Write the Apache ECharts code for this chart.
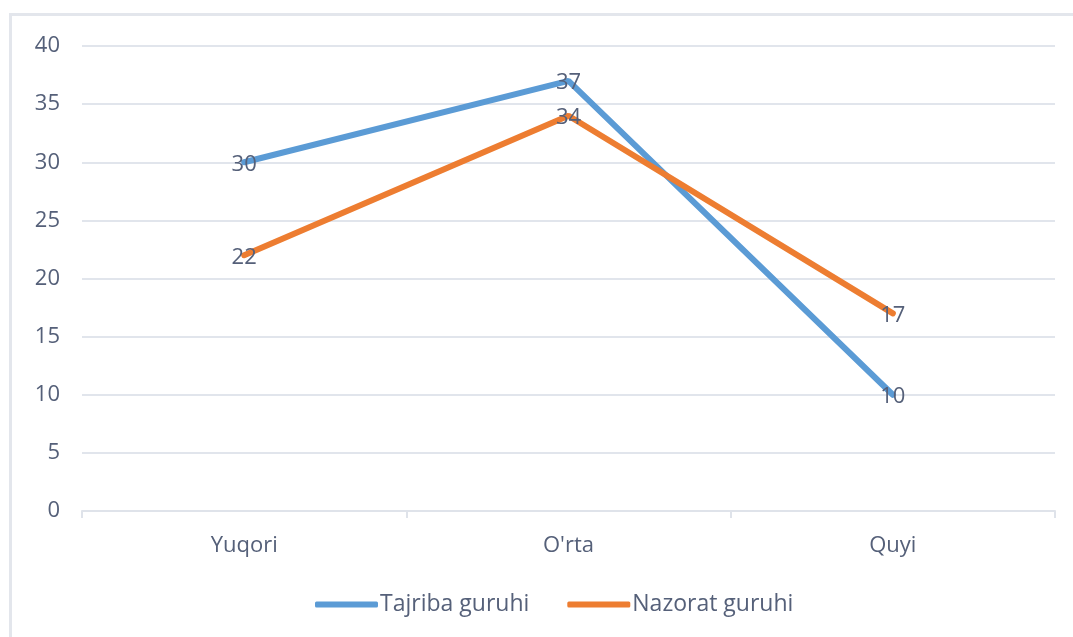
<!DOCTYPE html>
<html><head><meta charset="utf-8">
<script src="https://cdn.jsdelivr.net/npm/echarts@6/dist/echarts.min.js"></script>
<style>
html,body{margin:0;padding:0;background:#fff;overflow:hidden;}
#frame{position:absolute;left:9px;top:13px;width:1080px;height:640px;border:3px solid #e3e6ec;box-sizing:border-box;}
#chart{position:absolute;left:0;top:0;width:1073px;height:637px;}
</style></head>
<body>
<div id="frame"></div>
<div id="chart"></div>
<script>
const categories = ["Yuqori", "O'rta", "Quyi"];
const tajriba = [30, 37, 10];
const nazorat = [22, 34, 17];
const seriesNames = ["Tajriba guruhi", "Nazorat guruhi"];
const yTicks = {min: 0, max: 40, interval: 5};

const textColor = '#556079';
const font = 'Open Sans';
const fs = 22;
const chart = echarts.init(document.getElementById('chart'), null, {renderer: 'canvas'});
const label = {show: true, position: 'inside', offset: [0, 2], color: textColor, fontSize: fs, fontFamily: font};
chart.setOption({
  animation: false,
  grid: {left: 82, right: 18, top: 46, bottom: 126},
  legend: {
    bottom: 16, left: 310,
    itemWidth: 63, itemHeight: 6, itemGap: 38,
    icon: 'roundRect',
    textStyle: {color: textColor, fontSize: 23, fontFamily: font, padding: [0,0,0,-3]},
    data: seriesNames
  },
  xAxis: {
    type: 'category', data: categories, boundaryGap: true,
    axisLine: {lineStyle: {color: '#dfe3ea', width: 2}},
    axisTick: {show: true, length: 7, lineStyle: {color: '#dfe3ea', width: 2}},
    axisLabel: {color: textColor, fontSize: fs, fontFamily: font, margin: 24}
  },
  yAxis: {
    type: 'value', min: yTicks.min, max: yTicks.max, interval: yTicks.interval,
    axisLine: {show: false}, axisTick: {show: false},
    axisLabel: {color: textColor, fontSize: fs, fontFamily: font, margin: 22},
    splitLine: {lineStyle: {color: '#e1e5ec', width: 2}}
  },
  series: [
    {name: seriesNames[0], type: 'line', data: tajriba, showSymbol: true, symbol: 'circle', symbolSize: 0.1,
     lineStyle: {color: '#5b9bd5', width: 6, cap: 'round'}, itemStyle: {color: '#5b9bd5'}, label: label},
    {name: seriesNames[1], type: 'line', data: nazorat, showSymbol: true, symbol: 'circle', symbolSize: 0.1,
     lineStyle: {color: '#ed7d31', width: 6, cap: 'round'}, itemStyle: {color: '#ed7d31'}, label: label}
  ]
});
</script>
</body></html>
